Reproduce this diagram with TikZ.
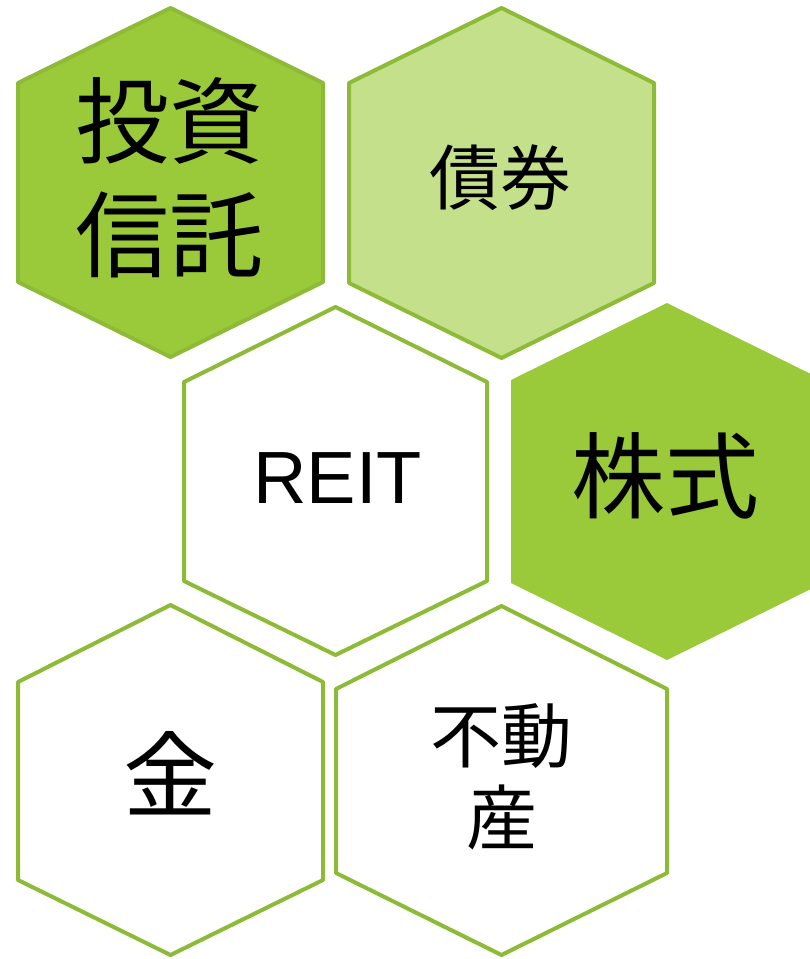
\documentclass[tikz,border=0pt]{standalone}
\usepackage{fontspec}
\setmainfont{Liberation Sans}
\newfontfamily\jpfont{Noto Sans CJK JP}
\definecolor{hexdark}{RGB}{154,202,58}
\definecolor{hexlight}{RGB}{196,224,139}
\definecolor{hexline}{RGB}{141,187,55}

\begin{document}
\begin{tikzpicture}[x=1pt,y=-1pt,line join=round]
    \tikzstyle{dark}=[fill=hexdark,draw=hexline,line width=4pt]
    \tikzstyle{light}=[fill=hexlight,draw=hexline,line width=4pt]
    \tikzstyle{plain}=[fill=white,draw=hexline,line width=4pt]
    \tikzstyle{jpbig}=[align=center,inner sep=0pt,font=\jpfont\fontsize{94}{114}\selectfont]
    \tikzstyle{jpsmall}=[align=center,inner sep=0pt,font=\jpfont\fontsize{71}{82}\selectfont]

    \useasboundingbox (0,0) rectangle (810,959);
    \fill[white] (0,0) rectangle (810,959);

    % hexagons
    \path[dark]  (170.5,8) -- (323,83) -- (323,282) -- (170.5,357) -- (18,282) -- (18,83) -- cycle;
    \path[light] (501.5,8) -- (654,83) -- (654,283) -- (501.5,358) -- (349,283) -- (349,83) -- cycle;
    \path[plain] (335.5,307) -- (487,382) -- (487,581) -- (335.5,655) -- (184,581) -- (184,382) -- cycle;
    \path[fill=hexdark] (667,303) -- (823,380) -- (823,583) -- (667,660) -- (511,583) -- (511,380) -- cycle;
    \path[plain] (170.5,605) -- (323,682) -- (323,880) -- (170.5,955) -- (18,880) -- (18,682) -- cycle;
    \path[plain] (501.5,606) -- (667,689) -- (667,873) -- (501.5,955) -- (336,873) -- (336,689) -- cycle;

    % labels
    \node[jpbig]   (toushin) at (169,178) {投資\\信託};
    \node[jpsmall] (saiken)  at (500,178) {債券};
    \node[inner sep=0pt,font=\fontsize{74}{80}\selectfont] (reit) at (337.5,478) {REIT};
    \node[jpbig]   (kabu)    at (665,476) {株式};
    \node[jpbig]   (kin)     at (170,773) {金};
    \node[jpsmall] (fudosan) at (501.5,777) {不動\\産};
\end{tikzpicture}
\end{document}
